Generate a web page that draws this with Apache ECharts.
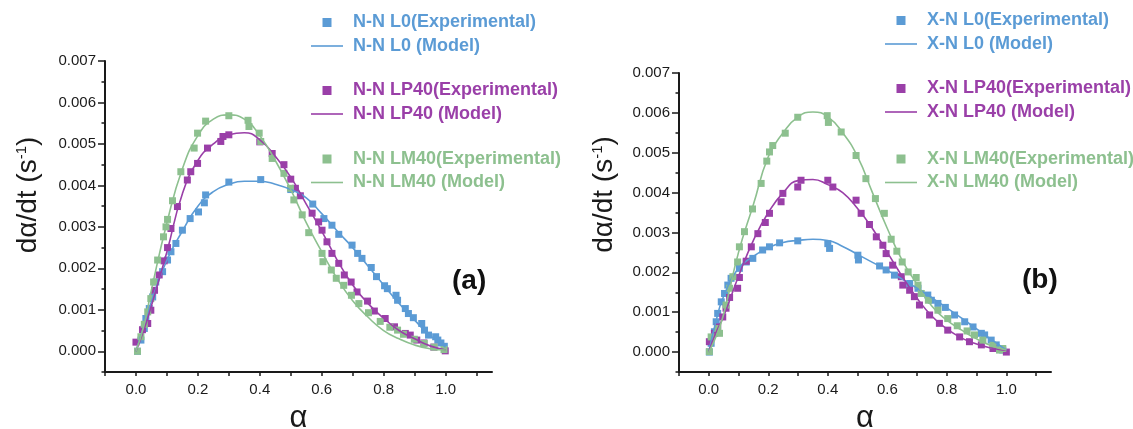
<!DOCTYPE html>
<html>
<head>
<meta charset="utf-8">
<script src="https://cdn.jsdelivr.net/npm/echarts@6/dist/echarts.min.js"></script>
<style>
  html, body { margin: 0; padding: 0; background: #ffffff; }
  #chart { width: 1133px; height: 429px; }
</style>
</head>
<body>
<div id="chart"></div>
<script>
// Conversion rate dα/dt versus conversion α: experimental points and model fits.

// Axis ticks and labels
const xTickValues = [-0.1, 0, 0.1, 0.2, 0.3, 0.4, 0.5, 0.6, 0.7, 0.8, 0.9, 1.0, 1.1];
const xLabelValues = [0, 0.2, 0.4, 0.6, 0.8, 1.0];
const yMajorValues = [0, 0.001, 0.002, 0.003, 0.004, 0.005, 0.006, 0.007];
const yMinorValues = [-0.0005, 0.0005, 0.0015, 0.0025, 0.0035, 0.0045, 0.0055, 0.0065];

// Panel (a): N-N samples, experimental [α, dα/dt]
const nnL0Exp = [[0.005,0.00000],[0.016,0.00027],[0.027,0.00055],[0.032,0.00079],[0.043,0.00103],[0.054,0.00131],[0.064,0.00167],[0.086,0.00192],[0.102,0.00220],[0.113,0.00240],[0.129,0.00260],[0.150,0.00292],[0.175,0.00320],[0.202,0.00336],[0.221,0.00358],[0.225,0.00377],[0.300,0.00408],[0.403,0.00414],[0.500,0.00390],[0.571,0.00355],[0.607,0.00320],[0.633,0.00304],[0.655,0.00282],[0.698,0.00256],[0.716,0.00236],[0.730,0.00224],[0.760,0.00202],[0.777,0.00180],[0.803,0.00158],[0.812,0.00151],[0.840,0.00135],[0.845,0.00123],[0.870,0.00103],[0.880,0.00091],[0.896,0.00081],[0.923,0.00067],[0.932,0.00051],[0.945,0.00039],[0.968,0.00035],[0.975,0.00027],[0.985,0.00020],[0.996,0.00012]];
const nnLP40Exp = [[0.000,0.00022],[0.021,0.00052],[0.038,0.00067],[0.048,0.00099],[0.060,0.00147],[0.075,0.00184],[0.091,0.00218],[0.102,0.00250],[0.113,0.00296],[0.134,0.00349],[0.166,0.00413],[0.177,0.00433],[0.199,0.00453],[0.231,0.00490],[0.274,0.00506],[0.281,0.00518],[0.300,0.00522],[0.400,0.00505],[0.440,0.00477],[0.478,0.00450],[0.500,0.00415],[0.515,0.00393],[0.531,0.00375],[0.569,0.00333],[0.590,0.00312],[0.601,0.00292],[0.617,0.00264],[0.633,0.00236],[0.655,0.00212],[0.673,0.00184],[0.695,0.00167],[0.714,0.00143],[0.748,0.00121],[0.770,0.00097],[0.805,0.00079],[0.835,0.00059],[0.870,0.00043],[0.886,0.00039],[0.907,0.00027],[0.930,0.00020],[0.962,0.00010],[0.999,0.00001]];
const nnLM40Exp = [[0.005,0.00000],[0.016,0.00035],[0.027,0.00065],[0.038,0.00095],[0.048,0.00127],[0.057,0.00167],[0.070,0.00220],[0.089,0.00276],[0.097,0.00300],[0.102,0.00318],[0.118,0.00363],[0.145,0.00433],[0.188,0.00490],[0.199,0.00526],[0.225,0.00555],[0.300,0.00568],[0.362,0.00557],[0.365,0.00542],[0.398,0.00526],[0.403,0.00506],[0.440,0.00465],[0.478,0.00429],[0.499,0.00393],[0.510,0.00365],[0.537,0.00329],[0.558,0.00286],[0.601,0.00236],[0.604,0.00216],[0.631,0.00196],[0.647,0.00176],[0.671,0.00159],[0.696,0.00135],[0.720,0.00115],[0.751,0.00093],[0.789,0.00072],[0.820,0.00058],[0.845,0.00051],[0.864,0.00041],[0.899,0.00029],[0.931,0.00019],[0.963,0.00010],[0.995,0.00004]];

// Panel (b): X-N samples, experimental [α, dα/dt]
const xnL0Exp = [[0.002,0.00000],[0.008,0.00022],[0.019,0.00051],[0.025,0.00076],[0.030,0.00097],[0.042,0.00126],[0.053,0.00147],[0.064,0.00168],[0.075,0.00185],[0.103,0.00210],[0.126,0.00226],[0.148,0.00235],[0.181,0.00256],[0.204,0.00264],[0.238,0.00274],[0.299,0.00279],[0.400,0.00272],[0.406,0.00260],[0.501,0.00243],[0.503,0.00231],[0.574,0.00216],[0.596,0.00206],[0.624,0.00193],[0.675,0.00172],[0.703,0.00160],[0.736,0.00143],[0.748,0.00130],[0.770,0.00122],[0.795,0.00112],[0.826,0.00093],[0.860,0.00076],[0.888,0.00063],[0.916,0.00047],[0.927,0.00043],[0.949,0.00030],[0.966,0.00018],[0.988,0.00005]];
const xnLP40Exp = [[0.002,0.00026],[0.019,0.00047],[0.030,0.00063],[0.047,0.00088],[0.058,0.00110],[0.070,0.00137],[0.097,0.00160],[0.103,0.00187],[0.126,0.00228],[0.143,0.00264],[0.165,0.00297],[0.190,0.00325],[0.204,0.00348],[0.243,0.00377],[0.249,0.00398],[0.299,0.00414],[0.310,0.00431],[0.400,0.00431],[0.417,0.00414],[0.495,0.00381],[0.512,0.00348],[0.540,0.00320],[0.563,0.00289],[0.585,0.00268],[0.596,0.00247],[0.618,0.00218],[0.647,0.00189],[0.652,0.00168],[0.675,0.00155],[0.691,0.00139],[0.708,0.00118],[0.742,0.00093],[0.775,0.00072],[0.803,0.00055],[0.843,0.00038],[0.876,0.00026],[0.916,0.00018],[0.955,0.00009],[1.000,0.00000]];
const xnLM40Exp = [[0.002,0.00001],[0.008,0.00038],[0.030,0.00059],[0.036,0.00047],[0.058,0.00118],[0.070,0.00160],[0.081,0.00189],[0.097,0.00226],[0.103,0.00264],[0.120,0.00302],[0.147,0.00359],[0.176,0.00423],[0.195,0.00479],[0.204,0.00502],[0.215,0.00518],[0.257,0.00549],[0.299,0.00589],[0.398,0.00593],[0.402,0.00576],[0.445,0.00552],[0.495,0.00493],[0.528,0.00435],[0.560,0.00385],[0.590,0.00348],[0.613,0.00283],[0.632,0.00253],[0.650,0.00226],[0.670,0.00201],[0.697,0.00187],[0.703,0.00168],[0.714,0.00147],[0.738,0.00130],[0.770,0.00105],[0.803,0.00084],[0.835,0.00066],[0.868,0.00053],[0.893,0.00043],[0.921,0.00030],[0.955,0.00017],[0.977,0.00005],[0.988,0.00009]];

// Model curves, sampled at these α values
const modelAlpha = [0, 0.025, 0.05, 0.1, 0.15, 0.2, 0.25, 0.3, 0.35, 0.4, 0.45, 0.5, 0.55, 0.6, 0.65, 0.7, 0.75, 0.8, 0.85, 0.9, 0.95, 1.0];
const nnL0Model   = [0, 0.00060, 0.00120, 0.00220, 0.00290, 0.00350, 0.00385, 0.00403, 0.00410, 0.00410, 0.00403, 0.00390, 0.00370, 0.00332, 0.00290, 0.00250, 0.00205, 0.00160, 0.00115, 0.00075, 0.00038, 0.00010];
const nnLP40Model = [0, 0.00050, 0.00110, 0.00240, 0.00380, 0.00460, 0.00500, 0.00522, 0.00527, 0.00510, 0.00470, 0.00420, 0.00355, 0.00290, 0.00220, 0.00160, 0.00115, 0.00080, 0.00050, 0.00030, 0.00013, 0.00003];
const nnLM40Model = [0, 0.00060, 0.00148, 0.00310, 0.00440, 0.00520, 0.00560, 0.00570, 0.00560, 0.00520, 0.00460, 0.00390, 0.00310, 0.00240, 0.00175, 0.00122, 0.00082, 0.00050, 0.00030, 0.00015, 0.00006, 0.00003];
const xnL0Model   = [0, 0.00080, 0.00140, 0.00210, 0.00240, 0.00262, 0.00275, 0.00280, 0.00283, 0.00280, 0.00265, 0.00245, 0.00225, 0.00205, 0.00183, 0.00160, 0.00136, 0.00111, 0.00085, 0.00058, 0.00031, 0.00005];
const xnLP40Model = [0, 0.00050, 0.00090, 0.00190, 0.00280, 0.00350, 0.00400, 0.00430, 0.00433, 0.00420, 0.00400, 0.00360, 0.00310, 0.00250, 0.00190, 0.00135, 0.00090, 0.00058, 0.00035, 0.00020, 0.00010, 0.00004];
const xnLM40Model = [0, 0.00040, 0.00095, 0.00250, 0.00370, 0.00490, 0.00550, 0.00590, 0.00602, 0.00590, 0.00550, 0.00490, 0.00400, 0.00310, 0.00230, 0.00170, 0.00115, 0.00080, 0.00055, 0.00033, 0.00016, 0.00005];

const BLUE = '#5b9bd5';
const PURPLE = '#9a3fa8';
const GREEN = '#8dc08f';
const INK = '#1a1a1a';
const FONT = '"Liberation Sans", Arial, sans-serif';

function pairs(ys) { return modelAlpha.map((a, i) => [a, ys[i]]); }

function xAxisFor(gridIndex) {
  return {
    type: 'value', gridIndex: gridIndex, min: -0.1, max: 1.15,
    axisLine: { show: true, onZero: false, lineStyle: { color: INK, width: 2 } },
    axisTick: { show: true, customValues: xTickValues, length: 4, lineStyle: { color: INK, width: 1.5 } },
    axisLabel: { customValues: xLabelValues, formatter: v => v.toFixed(1), fontSize: 15, color: INK, margin: 10, fontFamily: FONT },
    splitLine: { show: false },
    name: 'α', nameLocation: 'middle', nameGap: 31,
    nameTextStyle: { fontSize: 31, color: INK, fontFamily: FONT }
  };
}

function yAxesFor(gridIndex, shift, gap) {
  return [{
    type: 'value', gridIndex: gridIndex, position: 'left', min: -0.0005, max: 0.007,
    axisLine: { show: true, onZero: false, lineStyle: { color: INK, width: 2 } },
    axisTick: { show: true, customValues: yMajorValues, length: 7, lineStyle: { color: INK, width: 1.5 } },
    axisLabel: { customValues: yMajorValues, formatter: v => v.toFixed(3), fontSize: 15, color: INK, margin: 9, fontFamily: FONT },
    splitLine: { show: false },
    name: '{t|dα/dt (s}{s|-1}{t|)}', nameLocation: 'middle', nameGap: gap,
    nameTextStyle: {
      padding: [0, 0, 0, shift],
      rich: {
        t: { fontSize: 28, color: INK, fontFamily: FONT },
        s: { fontSize: 15, color: INK, fontFamily: FONT, verticalAlign: 'top' }
      }
    }
  }, {
    // minor ticks between the labelled values
    type: 'value', gridIndex: gridIndex, position: 'left', offset: 0, min: -0.0005, max: 0.007,
    axisLine: { show: false, onZero: false },
    axisTick: { show: true, customValues: yMinorValues, length: 3.5, lineStyle: { color: INK, width: 1.5 } },
    axisLabel: { show: false },
    splitLine: { show: false }
  }];
}

function scatter(name, data, color, xi, yi) {
  return { type: 'scatter', name: name, data: data, xAxisIndex: xi, yAxisIndex: yi,
    symbol: 'rect', symbolSize: 7, itemStyle: { color: color, opacity: 1 } };
}
function curve(name, ys, color, xi, yi) {
  return { type: 'line', name: name, data: pairs(ys), xAxisIndex: xi, yAxisIndex: yi,
    smooth: true, symbol: 'none', showSymbol: false,
    lineStyle: { color: color, width: 1.6 }, itemStyle: { color: color }, z: 3 };
}

const SQUARE = 'path://M0 0H10V10H0Z';
const DASHLINE = 'path://M0 0H32V1.6H0Z';
function legendPair(left, top, expName, modelName, color) {
  return {
    orient: 'vertical', left: left, top: top, padding: 0, itemGap: 5.5,
    itemWidth: 32, itemHeight: 9, symbolKeepAspect: true, selectedMode: false,
    textStyle: { fontSize: 18, fontWeight: 'bold', fontFamily: FONT, padding: [0, 0, 0, 5] },
    data: [
      { name: expName, icon: SQUARE, itemStyle: { color: color }, textStyle: { color: color } },
      { name: modelName, icon: DASHLINE, itemStyle: { color: color }, textStyle: { color: color } }
    ]
  };
}

const chart = echarts.init(document.getElementById('chart'), null, { renderer: 'canvas' });
chart.setOption({
  animation: false,
  backgroundColor: '#ffffff',
  textStyle: { fontFamily: FONT },
  title: [
    { text: '(a)', left: 452, top: 267, padding: 0, textStyle: { fontSize: 28, fontWeight: 'bold', color: '#111', fontFamily: FONT } },
    { text: '(b)', left: 1022, top: 266, padding: 0, textStyle: { fontSize: 28, fontWeight: 'bold', color: '#111', fontFamily: FONT } }
  ],
  grid: [
    { left: 105, top: 61, width: 387, height: 311, outerBoundsMode: 'none', containLabel: false },
    { left: 679, top: 73, width: 372, height: 299, outerBoundsMode: 'none', containLabel: false }
  ],
  legend: [
    legendPair(311, 13.5, 'N-N L0(Experimental)', 'N-N L0 (Model)', BLUE),
    legendPair(311, 81.5, 'N-N LP40(Experimental)', 'N-N LP40 (Model)', PURPLE),
    legendPair(311, 150, 'N-N LM40(Experimental)', 'N-N LM40 (Model)', GREEN),
    legendPair(885, 11.5, 'X-N L0(Experimental)', 'X-N L0 (Model)', BLUE),
    legendPair(885, 79.5, 'X-N LP40(Experimental)', 'X-N LP40 (Model)', PURPLE),
    legendPair(885, 150, 'X-N LM40(Experimental)', 'X-N LM40 (Model)', GREEN)
  ],
  xAxis: [xAxisFor(0), xAxisFor(1)],
  yAxis: [].concat(yAxesFor(0, 43, 63), yAxesFor(1, 56, 61)),
  series: [
    scatter('N-N L0(Experimental)', nnL0Exp, BLUE, 0, 0),
    curve('N-N L0 (Model)', nnL0Model, BLUE, 0, 0),
    scatter('N-N LP40(Experimental)', nnLP40Exp, PURPLE, 0, 0),
    curve('N-N LP40 (Model)', nnLP40Model, PURPLE, 0, 0),
    scatter('N-N LM40(Experimental)', nnLM40Exp, GREEN, 0, 0),
    curve('N-N LM40 (Model)', nnLM40Model, GREEN, 0, 0),
    scatter('X-N L0(Experimental)', xnL0Exp, BLUE, 1, 2),
    curve('X-N L0 (Model)', xnL0Model, BLUE, 1, 2),
    scatter('X-N LP40(Experimental)', xnLP40Exp, PURPLE, 1, 2),
    curve('X-N LP40 (Model)', xnLP40Model, PURPLE, 1, 2),
    scatter('X-N LM40(Experimental)', xnLM40Exp, GREEN, 1, 2),
    curve('X-N LM40 (Model)', xnLM40Model, GREEN, 1, 2)
  ]
});
</script>
</body>
</html>
